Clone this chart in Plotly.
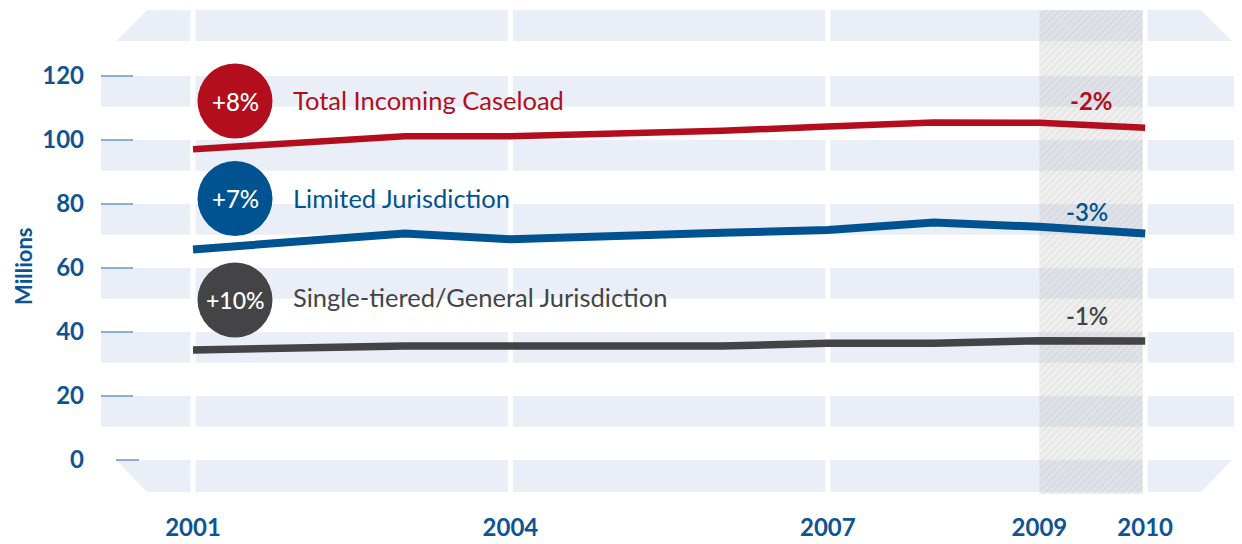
import plotly.graph_objects as go

years = [2001, 2002, 2003, 2004, 2005, 2006, 2007, 2008, 2009, 2010]
total = [97.1, 99.2, 101.2, 101.2, 101.9, 102.9, 104.2, 105.5, 105.4, 103.8]
limited = [65.8, 68.3, 70.8, 69.0, 70.3, 71.0, 71.9, 74.2, 72.9, 70.8]
single = [34.4, 35.0, 35.6, 35.6, 35.6, 35.6, 36.5, 36.5, 37.3, 37.2]

series_names = ["Total Incoming Caseload", "Limited Jurisdiction", "Single-tiered/General Jurisdiction"]
growth_labels = ["+8%", "+7%", "+10%"]
change_labels = ["-2%", "-3%", "-1%"]
x_tick_years = [2001, 2004, 2007, 2009, 2010]
y_tick_vals = [0, 20, 40, 60, 80, 100, 120]

RED = "#B20E1E"
BLUE = "#005391"
GRAY = "#444446"
TICK_BLUE = "#0E5492"
BAND = "#EAEEF6"
FONT = "Lato"

# page renders the figure offset by the 8px body margin
OFF = 8
W, H = 1242 - OFF, 544 - OFF
PLOT_L, PLOT_B = 101, 505          # in window pixels
PX = 105.8  # px per year
PY = 3.2    # px per unit
X0PX, Y0PX = 193, 460              # window pixel of (2001, 0)

XR = [2001 + (PLOT_L - X0PX) / PX, 2001 + (1242 - X0PX) / PX]
YR = [(Y0PX - PLOT_B) / PY, (Y0PX - OFF) / PY]
PLOT_W = 1242 - PLOT_L
PLOT_H = PLOT_B - OFF


def xpx(p):
    return 2001 + (p - X0PX) / PX


def ypx(p):
    return (Y0PX - p) / PY


fig = go.Figure()

# shaded 2009-2010 region
sx0, sx1 = 2009.0, 2010 - 2.5 / PX
sy0, sy1 = ypx(494), ypx(10)
fig.add_trace(go.Scatter(
    x=[sx0, sx1, sx1, sx0, sx0], y=[sy0, sy0, sy1, sy1, sy0],
    mode="lines", line=dict(width=0), fill="toself",
    fillcolor="rgba(190,190,190,0.25)",
    fillpattern=dict(shape="/", bgcolor="rgba(190,190,190,0.25)",
                     fgcolor="rgba(170,170,170,0.18)", size=5, solidity=0.3,
                     fillmode="replace"),
    hoverinfo="skip", showlegend=False))

for vals, col, w in [(total, RED, 6.5), (limited, BLUE, 8), (single, GRAY, 7.5)]:
    fig.add_trace(go.Scatter(x=years, y=vals, mode="lines",
                             line=dict(color=col, width=w),
                             showlegend=False, hoverinfo="skip"))

shapes = []
bh = 9.6
for v in range(20, 140, 20):
    shapes.append(dict(type="rect", layer="below", xref="x", yref="y",
                       x0=XR[0], x1=XR[1], y0=v - bh, y1=v,
                       fillcolor=BAND, line=dict(width=0)))
bx0, bx1, bx2, bx3 = xpx(116), xpx(147), xpx(1201), xpx(1232)
ttop, tbot = ypx(10), ypx(41)
shapes.append(dict(type="path", layer="below", xref="x", yref="y",
                   path=f"M{bx0},{tbot} L{bx1},{ttop} L{bx2},{ttop} L{bx3},{tbot} Z",
                   fillcolor=BAND, line=dict(width=0)))
btop, bbot = 0, ypx(492)
shapes.append(dict(type="path", layer="below", xref="x", yref="y",
                   path=f"M{bx0},{btop} L{bx3},{btop} L{bx2},{bbot} L{bx1},{bbot} Z",
                   fillcolor=BAND, line=dict(width=0)))
for yv in [2001, 2004, 2007, 2010]:
    shapes.append(dict(type="line", layer="below", xref="x", yref="y",
                       x0=yv, x1=yv, y0=ypx(496), y1=ypx(6),
                       line=dict(color="white", width=5)))

# short tick marks beside the y labels
for tv in y_tick_vals:
    a, b = (116, 139) if tv == 0 else (101, 133)
    shapes.append(dict(type="line", xref="x", yref="y",
                       x0=xpx(a), x1=xpx(b), y0=tv, y1=tv,
                       line=dict(color="#6E94C4", width=1.5)))

badge_cols = [RED, BLUE, GRAY]
badge_y = [ypx(101), ypx(198.5), ypx(300)]
badge_x = xpx(235)
r = 37.5
for by, col in zip(badge_y, badge_cols):
    shapes.append(dict(type="circle", xref="x", yref="y",
                       xsizemode="pixel", ysizemode="pixel",
                       xanchor=badge_x, yanchor=by,
                       x0=-r, x1=r, y0=-r, y1=r,
                       fillcolor=col, line=dict(width=0)))

annotations = []
for by, txt, sz in zip(badge_y, growth_labels, [24, 24, 23]):
    annotations.append(dict(x=badge_x, y=by, xref="x", yref="y", text=txt,
                            showarrow=False,
                            font=dict(family=FONT, size=sz, color="white", weight=500)))
label_x = xpx(291)
for ly, txt, col in zip([ypx(100), ypx(198), ypx(297)], series_names, badge_cols):
    annotations.append(dict(x=label_x, y=ly, xref="x", yref="y", text=txt,
                            xanchor="left", showarrow=False,
                            font=dict(family=FONT, size=25.5, color=col)))
for cx, cy, txt, col, wt in [(1091, 100, change_labels[0], RED, 700),
                             (1087, 211, change_labels[1], BLUE, 600),
                             (1087, 315, change_labels[2], GRAY, 600)]:
    annotations.append(dict(x=xpx(cx), y=ypx(cy), xref="x", yref="y",
                            text=txt, showarrow=False,
                            font=dict(family=FONT, size=24, color=col, weight=wt)))
annotations.append(dict(x=(23 - PLOT_L) / PLOT_W, y=(PLOT_B - 267) / PLOT_H,
                        xref="paper", yref="paper", text="Millions",
                        textangle=-90, showarrow=False,
                        xanchor="center", yanchor="middle",
                        font=dict(family=FONT, size=22, color=TICK_BLUE, weight=700)))

fig.update_layout(
    width=W, height=H,
    margin=dict(l=PLOT_L - OFF, r=0, t=0, b=H - PLOT_H, pad=0),
    paper_bgcolor="white", plot_bgcolor="white",
    shapes=shapes, annotations=annotations,
    showlegend=False,
    xaxis=dict(range=XR, showgrid=False, zeroline=False, showline=False,
               tickvals=x_tick_years, ticktext=[str(v) for v in x_tick_years],
               ticks="", ticklabelstandoff=6,
               tickfont=dict(family=FONT, size=24, color=TICK_BLUE, weight="bold")),
    yaxis=dict(range=YR, showgrid=False, zeroline=False, showline=False,
               tickvals=y_tick_vals, ticktext=[str(v) for v in y_tick_vals],
               ticks="", ticklabelstandoff=16,
               tickfont=dict(family=FONT, size=24, color=TICK_BLUE, weight="bold")),
)

fig.write_html("out.html")
